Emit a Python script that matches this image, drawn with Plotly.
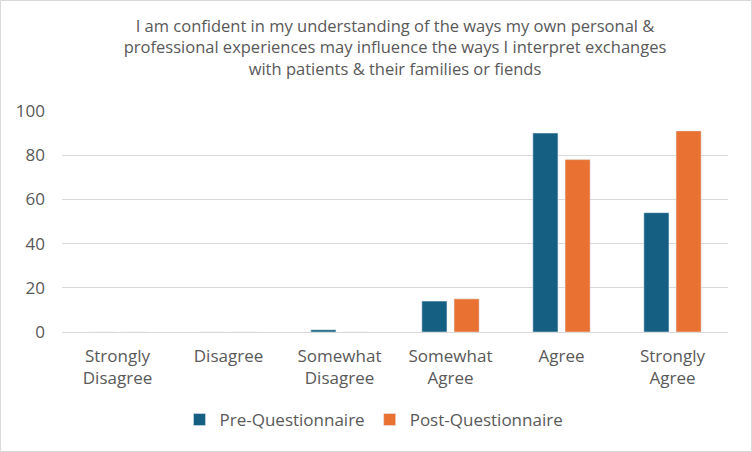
import plotly.graph_objects as go

categories = ["Strongly<br>Disagree", "Disagree", "Somewhat<br>Disagree", "Somewhat<br>Agree", "Agree", "Strongly<br>Agree"]
pre_values = [0, 0, 1, 14, 90, 54]
post_values = [0, 0, 0, 15, 78, 91]
y_ticks = [0, 20, 40, 60, 80, 100]
title_text = ("I am confident in my understanding of the ways my own personal &amp;<br>"
              "professional experiences may influence the ways I interpret exchanges<br>"
              "with patients &amp; their families or fiends")

FONT = "Open Sans, Lato, sans-serif"
TXT = "#595959"

fig = go.Figure()
fig.add_trace(go.Bar(name="Pre-Questionnaire", x=categories, y=pre_values, marker_color="#156082"))
fig.add_trace(go.Bar(name="Post-Questionnaire", x=categories, y=post_values, marker_color="#E97132"))

W, H = 752, 452
l, r, t, b = 62, 24, 111, 120
pw = W - l - r
ph = H - t - b

fig.update_layout(
    width=W, height=H,
    margin=dict(l=l, r=r, t=t, b=b, autoexpand=False),
    paper_bgcolor="white", plot_bgcolor="white",
    barmode="group", bargap=0.42, bargroupgap=0.22,
    font=dict(family=FONT, color=TXT, size=17),
    title=dict(text=title_text, x=0.5, xanchor="center", xref="paper",
               y=1 - 32 / H, yanchor="top", yref="container",
               font=dict(family=FONT, size=16.5, color=TXT)),
    legend=dict(orientation="h", x=(374 - l) / pw, xanchor="center", y=-(420 - 332) / ph, yanchor="middle",
                font=dict(family=FONT, size=17, color=TXT), itemwidth=30,
                traceorder="normal"),
    showlegend=True,
)
fig.update_yaxes(range=[0, 100], tickvals=y_ticks, showgrid=True, gridcolor="#D9D9D9", gridwidth=1,
                 zeroline=True, zerolinecolor="#D9D9D9", zerolinewidth=1, showline=False,
                 ticks="", ticklabelstandoff=16, tickfont=dict(size=17, color=TXT))
fig.update_xaxes(showgrid=False, showline=False, ticks="", ticklabelstandoff=12,
                 tickfont=dict(size=17, color=TXT))

fig.add_shape(type="rect", xref="paper", yref="paper",
              x0=(-l + 0.5) / pw, x1=(pw + r - 0.5) / pw,
              y0=(-b + 0.5) / ph, y1=(ph + t - 0.5) / ph,
              line=dict(color="#D9D9D9", width=1), fillcolor="rgba(0,0,0,0)", layer="below")

fig.write_html("out.html", config={"displayModeBar": False},
               post_script="document.body.style.margin='0';document.body.style.overflow='hidden';")
